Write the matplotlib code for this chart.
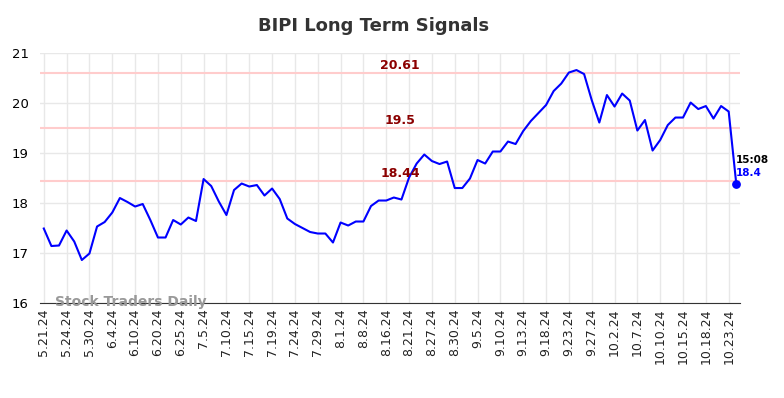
import matplotlib
matplotlib.use("Agg")
import matplotlib.pyplot as plt

TITEL = "BIPI Long Term Signals"

tick_labels = ["5.21.24", "5.24.24", "5.30.24", "6.4.24", "6.10.24", "6.20.24",
               "6.25.24", "7.5.24", "7.10.24", "7.15.24", "7.19.24", "7.24.24",
               "7.29.24", "8.1.24", "8.8.24", "8.16.24", "8.21.24", "8.27.24",
               "8.30.24", "9.5.24", "9.10.24", "9.13.24", "9.18.24", "9.23.24",
               "9.27.24", "10.2.24", "10.7.24", "10.10.24", "10.15.24", "10.18.24",
               "10.23.24"]

kurs = [17.49, 17.14, 17.15, 17.45, 17.23, 16.86, 16.99, 17.53, 17.62, 17.81,
        18.10, 18.02, 17.93, 17.98, 17.66, 17.31, 17.31, 17.66, 17.57, 17.71,
        17.64, 18.48, 18.34, 18.03, 17.76, 18.26, 18.39, 18.33, 18.36, 18.15,
        18.29, 18.08, 17.69, 17.58, 17.50, 17.42, 17.39, 17.39, 17.21, 17.61,
        17.55, 17.63, 17.63, 17.94, 18.05, 18.05, 18.11, 18.07, 18.51, 18.79,
        18.97, 18.84, 18.78, 18.83, 18.30, 18.30, 18.49, 18.86, 18.79, 19.03,
        19.03, 19.23, 19.18, 19.44, 19.64, 19.80, 19.96, 20.24, 20.39, 20.61,
        20.66, 20.58, 20.06, 19.61, 20.16, 19.93, 20.19, 20.05, 19.45, 19.66,
        19.05, 19.26, 19.56, 19.71, 19.71, 20.01, 19.88, 19.94, 19.69, 19.94,
        19.83, 18.38]

signale = [20.61, 19.5, 18.44]
signal_texte = ["20.61", "19.5", "18.44"]

letzte_zeit = "15:08"
letzter_wert = "18.4"

fig = plt.figure(figsize=(7.84, 3.98), dpi=100)
ax = fig.add_axes([0.051, 0.2387, 0.893, 0.628])

x = list(range(len(kurs)))

# Signallinien
for wert, text in zip(signale, signal_texte):
    ax.axhline(wert, color="#ffcccc", linewidth=1.5, zorder=1)
    ax.text(46.8, wert + 0.15, text, color="#8b0000", fontsize=9,
            fontweight="bold", ha="center", va="center", zorder=3)

ax.plot(x, kurs, color="#0000ff", linewidth=1.5, zorder=2)
ax.scatter([x[-1]], [kurs[-1]], color="#0000ff", s=28, zorder=4)
ax.text(x[-1] - 0.1, kurs[-1] + 0.48, letzte_zeit, fontsize=7.5,
        fontweight="bold", color="black", ha="left", va="center")
ax.text(x[-1] - 0.1, kurs[-1] + 0.22, letzter_wert, fontsize=7.5,
        fontweight="bold", color="#0000ff", ha="left", va="center")

ax.set_xlim(-0.5, len(kurs) - 0.5)
ax.set_ylim(16, 21)
ax.set_xticks(range(0, len(tick_labels) * 3, 3))
ax.set_xticklabels(tick_labels, rotation=90, fontsize=9, color="#222222")
ax.set_yticks([16, 17, 18, 19, 20, 21])
ax.tick_params(axis="y", labelsize=9.5, length=0, pad=8)
ax.tick_params(axis="x", length=0, pad=4)

ax.grid(True, color="#e8e8e8", linewidth=1)
ax.set_axisbelow(True)
for seite in ["left", "right", "top"]:
    ax.spines[seite].set_visible(False)
ax.spines["bottom"].set_color("#333333")

ax.text(1.5, 16.02, "Stock Traders Daily", fontsize=10, fontweight="bold",
        color="#999999", ha="left", va="center", zorder=5)

fig.text(374 / 784, 1 - 26 / 398, TITEL, fontsize=13, fontweight="bold",
         color="#333333", ha="center", va="center")

fig.savefig("out.png", dpi=100)
